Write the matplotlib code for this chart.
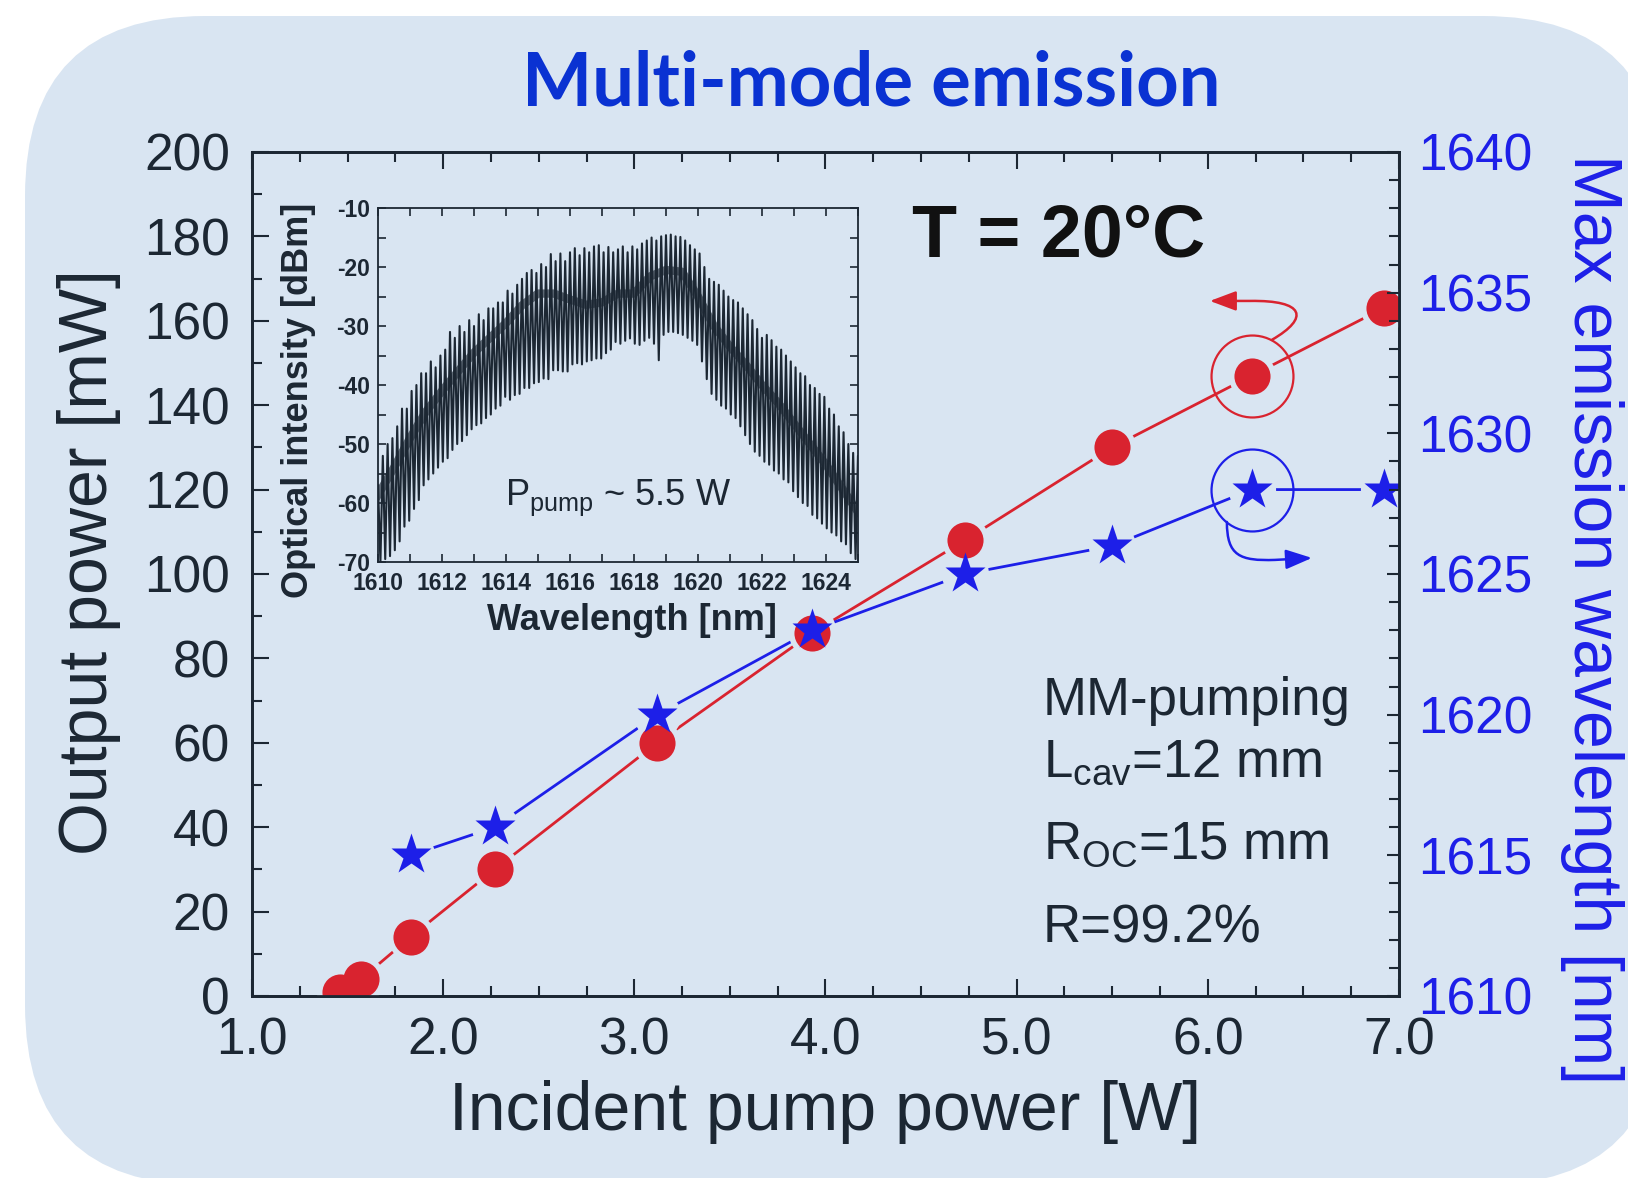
import numpy as np
import matplotlib
matplotlib.use('Agg')
import matplotlib.pyplot as plt
from matplotlib.patches import FancyBboxPatch, FancyArrowPatch
from matplotlib.path import Path
from matplotlib.ticker import MultipleLocator, FormatStrFormatter

plt.rcParams['font.family'] = ['Liberation Sans', 'DejaVu Sans']
plt.rcParams['mathtext.fontset'] = 'custom'
plt.rcParams['mathtext.rm'] = 'Liberation Sans'
plt.rcParams['mathtext.default'] = 'regular'
plt.rcParams['axes.unicode_minus'] = False

BG = '#d9e5f2'
DARK = '#1c2733'
RED = '#d9232f'
BLUE = '#1d1fe8'

# output power (left axis)
red_x = [1.46, 1.57, 1.83, 2.27, 3.12, 3.93, 4.73, 5.50, 6.23, 6.92]
red_y = [1.0, 4.0, 14, 30, 60, 86, 108, 130, 147, 163]

# max emission wavelength (right axis)
blue_x = [1.83, 2.27, 3.12, 3.93, 4.73, 5.50, 6.23, 6.92]
blue_y = [1615, 1616, 1620, 1623, 1625, 1626, 1628, 1628]

# inset spectrum: fringe peaks / troughs read every 0.15 nm, core every 0.5 nm
fringe_wl = np.linspace(1610, 1625, 101)
spec_hi = [-57, -52, -50, -49, -47, -44, -44, -41, -40, -38,
           -38, -36, -37, -35, -34, -31, -32, -30, -31, -29,
           -30, -28, -29, -27, -27, -26, -26, -24, -24.5, -23,
           -22, -21, -20.5, -21, -19.5, -20, -17.8, -19, -17.7, -19,
           -17.5, -16.8, -18, -16.8, -17.5, -16.5, -16.3, -17.5, -16.6, -17.5,
           -17, -16.5, -17.5, -16.5, -17, -16, -15.5, -15, -15.5, -14.8,
           -14.6, -14.5, -14.8, -14.9, -15.5, -16.3, -17, -17.7, -20, -22,
           -22.5, -23, -24, -25, -25.6, -26, -27, -28, -29, -30.5,
           -32, -31.5, -32.4, -33.5, -34, -35, -36, -37, -38, -38.5,
           -40, -40.5, -41.5, -42, -44, -45, -47, -48, -50, -51.5, -52]
spec_lo = [-70, -69.5, -69, -68, -66.5, -64, -63, -61, -59.5, -57,
           -56, -55, -54, -53, -52.4, -51, -50, -49.5, -48.5, -47.5,
           -46.8, -46.5, -45.6, -45, -44, -43.5, -42, -42.5, -41.7, -41.5,
           -40.5, -40.5, -39.7, -39.5, -38.9, -39, -37.5, -37.5, -37.7, -37.7,
           -36.5, -36.3, -36.5, -36, -35.8, -35.5, -35.5, -34.6, -34, -32.7,
           -33, -32.5, -32.1, -33, -33.2, -32.5, -32, -33, -35.8, -31.5,
           -31, -31, -31.2, -31.5, -32, -32.5, -33.2, -36, -39, -41.5,
           -42.5, -43.5, -44, -45, -45.6, -47, -48.5, -50, -51.3, -52,
           -53, -53.5, -54.5, -55, -56, -56.5, -58, -59, -60, -60.5,
           -62, -62.6, -63.5, -64.3, -65, -65.5, -66.5, -67, -68.5, -69.5, -70]
core_wl = np.linspace(1610, 1625, 31)
spec_core = [-58.6, -54, -49, -44.5, -41, -37.7, -34.5, -32, -29.5, -26.5,
             -24.5, -24.5, -25.5, -26.4, -26, -24.5, -24.5, -21.6, -20.5, -20.8,
             -25, -30, -33.5, -36.6, -40, -43, -46.5, -50, -53.5, -57.5, -61.5]

# annotation arrows (x in W, y in the axis units of each series)
red_arrow = [(6.336, 155.5), (6.534, 160.7), (6.508, 164.9), (6.221, 164.7), (6.011, 164.7)]
blue_arrow = [(6.100, 1626.85), (6.100, 1625.64), (6.168, 1625.46), (6.351, 1625.50), (6.545, 1625.57)]

fig = plt.figure(figsize=(16.28, 11.78), dpi=100, facecolor='white')
panel = FancyBboxPatch((0.25, -0.07), 16.38, 11.69, boxstyle='round,pad=0,rounding_size=1.8',
                       transform=fig.dpi_scale_trans, fc=BG, ec='none', zorder=-10)
fig.add_artist(panel)

ax = fig.add_axes([0.1548, 0.1545, 0.7045, 0.7165])
ax.patch.set_visible(False)
ax2 = ax.twinx()
ax2.patch.set_visible(False)

# lines with gaps round the markers
ax.plot(red_x, red_y, color=RED, lw=2, zorder=2)
ax.plot(blue_x, blue_y, color=BLUE, lw=2, zorder=2, transform=ax2.transData)
ax.plot(red_x, red_y, ls='none', marker='o', ms=34, mfc=BG, mec='none', zorder=3)
ax.plot(blue_x, blue_y, ls='none', marker='o', ms=34, mfc=BG, mec='none', zorder=3,
        transform=ax2.transData)
ax.plot(red_x, red_y, ls='none', marker='o', ms=26, color=RED, mec='none', zorder=4)
ax.plot(blue_x, blue_y, ls='none', marker='*', ms=31, color=BLUE, mec='none', zorder=5,
        transform=ax2.transData)

# rings + curved arrows pointing at each axis
ax.plot([red_x[8]], [red_y[8]], ls='none', marker='o', ms=59, mfc='none', mec=RED, mew=1.6, zorder=4)
ax.plot([blue_x[6]], [blue_y[6]], ls='none', marker='o', ms=59, mfc='none', mec=BLUE, mew=1.6,
        zorder=4, transform=ax2.transData)
codes = [Path.MOVETO, Path.CURVE4, Path.CURVE4, Path.CURVE4, Path.LINETO]
for pts, col, trans in [(red_arrow, RED, ax.transData), (blue_arrow, BLUE, ax2.transData)]:
    arr = FancyArrowPatch(path=Path(pts, codes), arrowstyle='-|>,head_length=0.8,head_width=0.3',
                          mutation_scale=20, color=col, lw=1.8, transform=trans, zorder=4)
    ax.add_patch(arr)

ax.set_xlim(1, 7)
ax.set_ylim(0, 200)
ax2.set_ylim(1610, 1640)

ax.xaxis.set_major_locator(MultipleLocator(1))
ax.xaxis.set_minor_locator(MultipleLocator(0.25))
ax.xaxis.set_major_formatter(FormatStrFormatter('%.1f'))
ax.yaxis.set_major_locator(MultipleLocator(20))
ax.yaxis.set_minor_locator(MultipleLocator(10))
ax2.yaxis.set_major_locator(MultipleLocator(5))
ax2.yaxis.set_minor_locator(MultipleLocator(1))

ax.tick_params(axis='both', which='both', direction='in', top=True, right=False,
               color=DARK, labelcolor=DARK, labelsize=37, width=1.5)
ax.tick_params(axis='both', which='major', length=12.5)
ax.tick_params(axis='both', which='minor', length=7)
ax.tick_params(axis='x', pad=15)
ax.tick_params(axis='y', pad=16)
ax2.tick_params(axis='y', which='both', direction='in', left=False, color=DARK,
                labelcolor=BLUE, labelsize=37, width=1.5, pad=14)
ax2.tick_params(axis='y', which='major', length=9)
ax2.tick_params(axis='y', which='minor', length=7)
for a in (ax, ax2):
    for sp in a.spines.values():
        sp.set_linewidth(2)
        sp.set_color(DARK)

ax.set_xlabel('Incident pump power [W]', fontsize=49, color=DARK, va='center')
ax.xaxis.set_label_coords(0.5, -0.137)
ax.set_ylabel('Output power [mW]', fontsize=49, color=DARK, va='center')
ax.yaxis.set_label_coords(-0.142, 0.514)
ax2.set_ylabel('Max emission wavelength [nm]', fontsize=49, color=BLUE, rotation=-90, va='center')
ax2.yaxis.set_label_coords(1.168, 0.4467)

# inset spectrum
axi = fig.add_axes([0.2322, 0.5229, 0.2948, 0.3005])
axi.patch.set_visible(False)
half = (fringe_wl[1] - fringe_wl[0]) / 2
zig_x = np.column_stack([fringe_wl, fringe_wl + half]).ravel()
zig_y = np.column_stack([spec_hi, spec_lo]).ravel()
axi.plot(zig_x, zig_y, color=DARK, lw=1.5)
axi.plot(core_wl, spec_core, color=DARK, lw=6, alpha=0.65)
axi.set_xlim(1610, 1625)
axi.set_ylim(-70, -10)
axi.xaxis.set_major_locator(MultipleLocator(2))
axi.xaxis.set_minor_locator(MultipleLocator(1))
axi.yaxis.set_major_locator(MultipleLocator(10))
axi.yaxis.set_minor_locator(MultipleLocator(5))
axi.tick_params(which='both', direction='in', top=True, right=True, color=DARK, width=1.2)
axi.tick_params(which='major', length=6)
axi.tick_params(which='minor', length=6)
axi.tick_params(axis='x', pad=7)
axi.tick_params(axis='y', pad=6)
for lab in axi.get_xticklabels() + axi.get_yticklabels():
    lab.set_fontsize(16.5)
    lab.set_fontweight('bold')
    lab.set_color(DARK)
for sp in axi.spines.values():
    sp.set_linewidth(1.3)
    sp.set_color(DARK)
axi.set_xlabel('Wavelength [nm]', fontsize=26, fontweight='bold', color=DARK, va='center')
axi.xaxis.set_label_coords(0.529, -0.166)
axi.set_ylabel('Optical intensity [dBm]', fontsize=26, fontweight='bold', color=DARK, va='center')
axi.yaxis.set_label_coords(-0.1667, 0.4576)
fig.text(0.3102, 0.571, r'P$_{pump}$ ~ 5.5 W', fontsize=26, color=DARK, va='baseline')

fig.text(0.535, 0.929, 'Multi-mode emission', fontsize=53.5, fontweight='bold', family='Lato',
         color='#0a32d2', ha='center', va='center')
fig.text(0.650, 0.799, 'T = 20°C', fontsize=53, fontweight='bold', color='#111111',
         ha='center', va='center')
info = ['MM-pumping', r'$L_{cav}$=12 mm', r'$R_{OC}$=15 mm', 'R=99.2%']
for s, yb in zip(info, [0.393, 0.3404, 0.2708, 0.2003]):
    fig.text(0.6407, yb, s, fontsize=38, color=DARK, va='baseline')

fig.savefig('out.png', dpi=100, facecolor='white')
